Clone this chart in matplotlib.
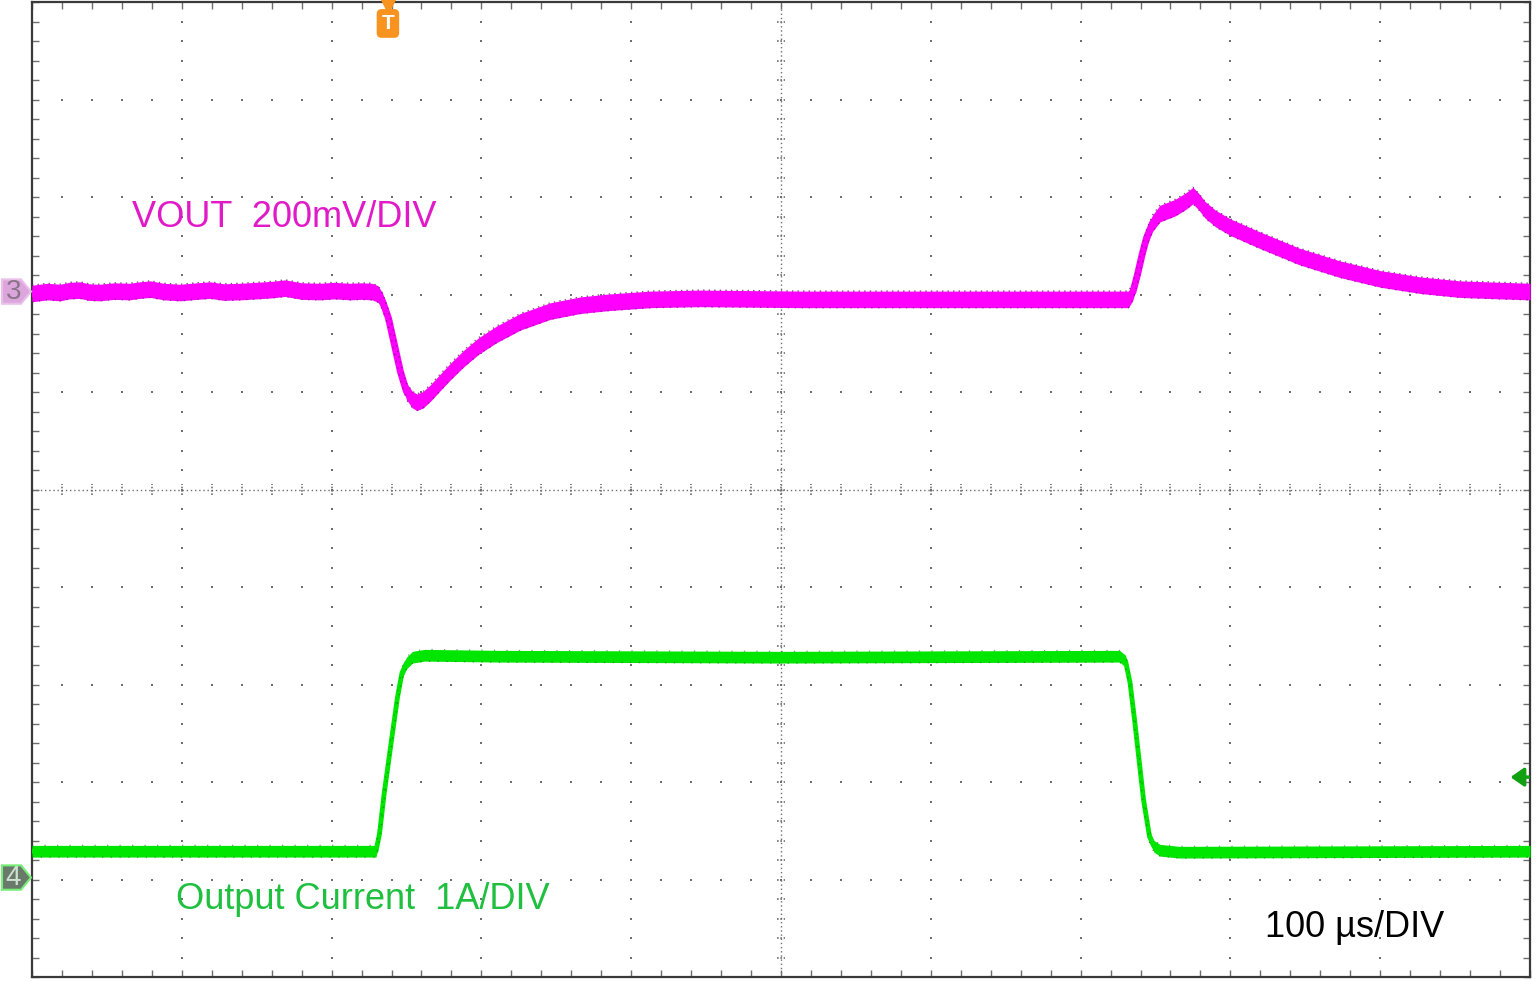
import numpy as np
import matplotlib
matplotlib.use("Agg")
import matplotlib.pyplot as plt
from matplotlib.patches import Polygon
from matplotlib.transforms import blended_transform_factory

# ---------------- data (read from the screen capture) ----------------
# time axis in microseconds (100 us/DIV, 10 divisions)
vout_t = [0, 10, 18.7, 25, 32, 38, 45, 55, 65, 72, 79, 88, 99, 110, 119, 128, 139,
          150, 160, 169, 180, 192, 202, 212, 220, 227,
          231, 234, 238, 242, 246, 250, 254, 257, 261, 266, 272, 279, 288, 298,
          310, 326, 346, 366, 385, 413, 446, 513, 579, 646, 713, 732,
          735, 738, 741, 744, 748, 753, 763, 770, 775, 779, 783, 790, 800, 820,
          846, 873, 900, 927, 953, 980, 1000]
# VOUT deviation in mV (200 mV/DIV)
vout_mv = [-4, 0, -2, 2, 3, -1, -2, 1, 0, 3, 5, 0, -2, 1, 3, -1, 0,
           2, 4, 7, 1, 0, 2, 0, 1, 0,
           -5, -20, -55, -110, -165, -205, -222, -227, -222, -208, -188, -165, -138, -112,
           -88, -62, -40, -28, -22, -16, -14, -16, -16, -16, -16, -16,
           0, 35, 75, 110, 140, 160, 172, 185, 197, 184, 168, 150, 132, 105,
           72, 46, 26, 13, 5, 2, 0]

iout_t = [0, 229.6, 232, 235, 239, 244, 247, 250, 254, 262, 312, 500, 726,
          730, 733, 736, 742, 746, 749, 753, 766, 1000]
# output current in A (1 A/DIV)
iout_a = [0.27, 0.27, 0.45, 0.85, 1.30, 1.85, 2.10, 2.20, 2.26, 2.28, 2.27, 2.26, 2.27,
          2.22, 2.00, 1.62, 0.80, 0.42, 0.32, 0.28, 0.26, 0.27]

CH3_OFFSET_DIV = 2.03      # channel 3 reference marker
CH4_OFFSET_DIV = -3.98     # channel 4 reference marker
CH3_SCALE_MV = 200.0
CH4_SCALE_A = 1.0
TIME_PER_DIV = 100.0
TRIGGER_T = 237.6
CH4_TRIG_LEVEL_DIV = -2.95

vout_label = "VOUT  200mV/DIV"
iout_label = "Output Current  1A/DIV"
time_label = "100 µs/DIV"

# ---------------- figure ----------------
W, H = 1536, 981
fig = plt.figure(figsize=(W / 100, H / 100), dpi=100)
fig.patch.set_facecolor("white")
ax = fig.add_axes([32 / W, 4 / H, (1530 - 32) / W, (977 - 2) / H])
ax.set_xlim(0, 10 * TIME_PER_DIV)
ax.set_ylim(-5, 5)
ax.set_facecolor("white")

gridc = "#6e6e6e"
# dotted graticule
for gx in np.arange(1, 10) * TIME_PER_DIV:
    if gx == 5 * TIME_PER_DIV:
        continue
    ys = np.arange(-5, 5.001, 0.2)
    ax.scatter(np.full_like(ys, gx), ys, s=2.4, marker="s", color=gridc, lw=0, zorder=1)
for gy in range(-4, 5):
    if gy == 0:
        continue
    xs = np.arange(0, 1000.01, TIME_PER_DIV / 5)
    ax.scatter(xs, np.full_like(xs, gy, dtype=float), s=2.4, marker="s", color=gridc, lw=0, zorder=1)

# centre axes with cross ticks
ax.axhline(0, color=gridc, lw=1.0, ls=(0, (1, 2)), zorder=1)
ax.axvline(500, color=gridc, lw=1.0, ls=(0, (1, 2)), zorder=1)
for tx in np.arange(0, 1000.01, TIME_PER_DIV / 5):
    ax.plot([tx, tx], [-0.055, 0.055], color=gridc, lw=1.2, ls=(0, (1, 1)), zorder=1)
for ty in np.arange(-5, 5.001, 0.2):
    ax.plot([500 - 3, 500 + 3], [ty, ty], color=gridc, lw=1.2, ls=(0, (1, 1)), zorder=1)

# frame and inward ticks
for s in ax.spines.values():
    s.set_color("#3a3a3a")
    s.set_linewidth(1.6)
ax.set_xticks(np.arange(0, 1000.01, TIME_PER_DIV / 5))
ax.set_yticks(np.arange(-5, 5.001, 0.2))
ax.tick_params(direction="in", length=5, width=1, color=gridc,
               top=True, right=True, labelbottom=False, labelleft=False)

# ---------------- traces ----------------
vt = np.array(vout_t)
vy = CH3_OFFSET_DIV + np.array(vout_mv) / CH3_SCALE_MV
it = np.array(iout_t)
iy = CH4_OFFSET_DIV + np.array(iout_a) / CH4_SCALE_A

mag = "#ff00ff"
grn = "#00e600"
ax.fill_between(vt, vy - 0.085, vy + 0.085, color=mag, lw=0, zorder=3)
ax.plot(vt, vy, color=mag, lw=5, zorder=3, solid_joinstyle="round")
ax.plot(vt, vy + 0.085, color="#7a1a7a", lw=1.0, ls=(0, (1, 3)), zorder=4, alpha=0.8)
ax.plot(vt, vy - 0.085, color="#7a1a7a", lw=1.0, ls=(0, (1, 4)), zorder=4, alpha=0.8)

ax.fill_between(it, iy - 0.06, iy + 0.06, color=grn, lw=0, zorder=3)
ax.plot(it, iy, color=grn, lw=3.5, zorder=3)
ax.plot(it, iy - 0.06, color="#1a6a1a", lw=0.9, ls=(0, (1, 6)), zorder=4, alpha=0.7)
ax.plot(it, iy + 0.06, color="#1a6a1a", lw=0.9, ls=(0, (1, 9)), zorder=4, alpha=0.6)

# ---------------- annotations ----------------
font = ["Liberation Sans", "DejaVu Sans"]
ax.text(66.8, 2.79, vout_label, color="#e11ac8", fontsize=26, family=font,
        ha="left", va="center", zorder=5)
ax.text(96.1, -4.21, iout_label, color="#1fbf3f", fontsize=26, family=font,
        ha="left", va="center", zorder=5)
ax.text(823.1, -4.49, time_label, color="black", fontsize=26, family=font,
        ha="left", va="center", zorder=5)

# trigger marker
orange = "#f7931e"
ax.plot([TRIGGER_T], [4.96], marker="v", ms=10, color=orange, clip_on=False, zorder=6)
ax.text(TRIGGER_T, 4.78, "T", color="white", fontsize=15, fontweight="bold",
        family=font, ha="center", va="center", zorder=6,
        bbox=dict(boxstyle="round,pad=0.2,rounding_size=0.2", fc=orange, ec=orange))

# channel markers on the left
bt = blended_transform_factory(ax.transAxes, ax.transData)
def chan_marker(ydiv, label, fc, ec, tc):
    x0, x1, xp = -30 / 1498, -11 / 1498, -1 / 1498
    h = 0.125
    poly = Polygon([[x0, ydiv - h], [x1, ydiv - h], [xp, ydiv], [x1, ydiv + h], [x0, ydiv + h]],
                   closed=True, transform=bt, fc=fc, ec=ec, lw=1.5, clip_on=False, zorder=6)
    ax.add_patch(poly)
    ax.text((x0 + x1) / 2 + 2 / 1498, ydiv, label, transform=bt, color=tc, fontsize=20,
            family=font, ha="center", va="center", clip_on=False, zorder=7)

chan_marker(CH3_OFFSET_DIV, "3", "#dca6dc", "#eac0ea", "#8a748a")
chan_marker(CH4_OFFSET_DIV, "4", "#6a7a6a", "#77ee77", "#d0e0d0")

# channel 4 trigger level arrow on the right
ax.annotate("", xy=(0.987, CH4_TRIG_LEVEL_DIV), xycoords=bt,
            xytext=(0.999, CH4_TRIG_LEVEL_DIV), textcoords=bt,
            arrowprops=dict(arrowstyle="-|>,head_length=0.5,head_width=0.35",
                            color="#10a010", lw=2.5, mutation_scale=16,
                            shrinkA=0, shrinkB=0),
            zorder=7)

fig.savefig("out.png", dpi=100, facecolor="white")
